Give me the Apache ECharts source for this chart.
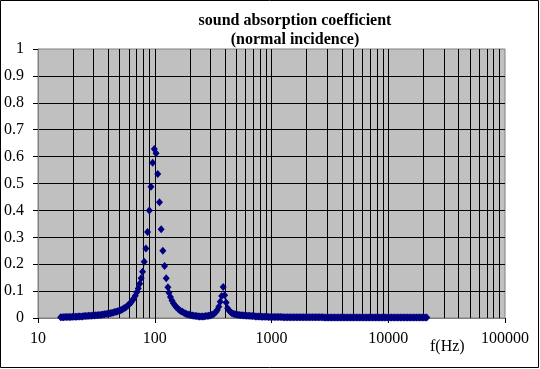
<!DOCTYPE html>
<html lang="en">
  <head>
    <meta charset="UTF-8" />
    <title>sound absorption coefficient</title>
    <script src="https://cdn.jsdelivr.net/npm/echarts@6/dist/echarts.min.js"></script>
    <style>
      html,
      body {
        margin: 0;
        padding: 0;
        background: #fff;
      }
      #chart {
        width: 540px;
        height: 369px;
      }
    </style>
  </head>
  <body>
    <div id="chart"></div>
    <script>
      const freqHz = [
        15.63, 16.08, 16.55, 17.04, 17.54, 18.05, 18.58, 19.13, 19.69, 20.26, 20.86, 21.47,
        22.10, 22.74, 23.41, 24.10, 24.80, 25.53, 26.28, 27.05, 27.84, 28.66, 29.50, 30.36,
        31.25, 32.17, 33.11, 34.08, 35.08, 36.10, 37.16, 38.25, 39.37, 40.53, 41.71, 42.94,
        44.19, 45.49, 46.82, 48.19, 49.61, 51.06, 52.56, 54.10, 55.68, 57.31, 58.99, 60.72,
        62.50, 64.33, 66.22, 68.16, 70.15, 72.21, 74.33, 76.50,
        78.6, 81.2, 84.0, 86.8, 89.8, 92.8, 95.9, 99.2,
        102.6, 106.1, 109.7, 113.4, 117.3, 121.3, 125.4, 129.7,
        132.4, 136.3, 140.3, 144.4, 148.7, 153.0, 157.5, 162.1, 166.9, 171.8, 176.8,
        182.0, 187.3, 192.8, 198.4, 204.2, 210.2, 216.4, 222.7, 229.3, 236.0, 242.9,
        250.0, 257.3, 264.9, 272.6, 280.6, 288.8, 297.3, 306.0, 315.0, 324.2, 333.7, 343.5,
        353.6, 363.9, 374.6, 385.6, 396.9, 408.5, 420.5, 432.8, 445.5, 458.5, 471.9, 485.8,
        500, 514.7, 529.7, 545.3, 561.2, 577.7, 594.6, 612.0, 630.0, 648.4, 667.4, 687.0,
        707.1, 727.8, 749.2, 771.1, 793.7, 817.0, 840.9, 865.5, 890.9, 917.0, 943.9, 971.5,
        1000, 1029, 1059, 1090, 1122, 1155, 1189, 1224, 1260, 1297, 1335, 1374,
        1414, 1456, 1498, 1542, 1587, 1634, 1682, 1731, 1782, 1834, 1888, 1943,
        2000, 2059, 2119, 2181, 2245, 2311, 2378, 2448, 2520, 2594, 2670, 2748,
        2828, 2911, 2997, 3084, 3175, 3268, 3364, 3462, 3564, 3668, 3776, 3886,
        4000, 4117, 4238, 4362, 4490, 4621, 4757, 4896, 5040, 5187, 5339, 5496,
        5657, 5823, 5993, 6169, 6350, 6536, 6727, 6924, 7127, 7336, 7551, 7772,
        8000, 8234, 8476, 8724, 8980, 9243, 9514, 9792, 10079, 10375, 10679, 10992,
        11314, 11645, 11986, 12338, 12699, 13071, 13454, 13849, 14254, 14672, 15102, 15544,
        16000, 16469, 16951, 17448, 17959, 18486, 19027, 19585, 20159, 20749, 21357
      ];
      const absorption = [
        0.003, 0.003, 0.003, 0.004, 0.004, 0.004, 0.004, 0.004, 0.005, 0.005, 0.005, 0.005,
        0.006, 0.006, 0.006, 0.006, 0.007, 0.007, 0.007, 0.008, 0.008, 0.008, 0.009, 0.009,
        0.010, 0.010, 0.011, 0.011, 0.012, 0.013, 0.014, 0.015, 0.016, 0.017, 0.018, 0.019,
        0.020, 0.022, 0.023, 0.025, 0.027, 0.029, 0.032, 0.035, 0.038, 0.042, 0.047, 0.052,
        0.058, 0.065, 0.073, 0.083, 0.096, 0.110, 0.127, 0.148,
        0.172, 0.209, 0.258, 0.320, 0.400, 0.488, 0.577, 0.628,
        0.612, 0.535, 0.430, 0.330, 0.250, 0.193, 0.148, 0.114,
        0.094, 0.078, 0.065, 0.055, 0.047, 0.040, 0.035, 0.030, 0.026, 0.023, 0.020,
        0.017, 0.015, 0.013, 0.012, 0.010, 0.009, 0.008, 0.007, 0.007, 0.006, 0.006,
        0.006, 0.006, 0.006, 0.007, 0.007, 0.008, 0.009, 0.011, 0.013, 0.017, 0.022, 0.030,
        0.042, 0.060, 0.082, 0.115, 0.085, 0.058, 0.036, 0.028, 0.022, 0.018, 0.016, 0.014,
        0.013, 0.012, 0.011, 0.010, 0.010, 0.009, 0.009, 0.008, 0.008, 0.008, 0.007, 0.007,
        0.007, 0.006, 0.006, 0.006, 0.006, 0.005, 0.005, 0.005, 0.005, 0.005, 0.004, 0.004,
        0.004, 0.004, 0.004, 0.004, 0.004, 0.004, 0.004, 0.004, 0.003, 0.003, 0.003, 0.003,
        0.003, 0.003, 0.003, 0.003, 0.003, 0.003, 0.003, 0.003, 0.003, 0.003, 0.003, 0.003,
        0.003, 0.003, 0.003, 0.003, 0.003, 0.003, 0.003, 0.003, 0.003, 0.003, 0.003, 0.003,
        0.002, 0.002, 0.002, 0.002, 0.002, 0.002, 0.002, 0.002, 0.002, 0.002, 0.002, 0.002,
        0.002, 0.002, 0.002, 0.002, 0.002, 0.002, 0.002, 0.002, 0.002, 0.002, 0.002, 0.002,
        0.002, 0.002, 0.002, 0.002, 0.002, 0.002, 0.002, 0.002, 0.002, 0.002, 0.002, 0.002,
        0.002, 0.002, 0.002, 0.002, 0.002, 0.002, 0.002, 0.002, 0.002, 0.002, 0.002, 0.002,
        0.002, 0.002, 0.002, 0.002, 0.002, 0.002, 0.002, 0.002, 0.002, 0.002, 0.002, 0.002,
        0.002, 0.002, 0.002, 0.002, 0.002, 0.002, 0.002, 0.002, 0.002, 0.002, 0.002
      ];
      const decades = [10, 100, 1000, 10000, 100000];
      const chartTitle = "sound absorption coefficient\n(normal incidence)";
      const xName = "f(Hz)";

      // excel-style minor gridlines at 2..9 x each decade
      const minorLines = [];
      decades.slice(0, -1).forEach(d => {
        for (let m = 2; m < 10; m++) minorLines.push(d * m);
      });

      const serif = "Liberation Serif";
      const chart = echarts.init(document.getElementById("chart"));
      chart.setOption({
        animation: false,
        backgroundColor: "#fff",
        title: {
          text: chartTitle,
          left: 290,
          top: 6,
          textAlign: "center",
          textStyle: {
            fontFamily: serif,
            fontSize: 16,
            fontWeight: "bold",
            color: "#000",
            lineHeight: 19
          }
        },
        grid: {
          left: 38,
          top: 49,
          width: 467,
          height: 269,
          show: true,
          backgroundColor: "#c0c0c0",
          borderColor: "#808080",
          borderWidth: 1
        },
        xAxis: {
          type: "log",
          logBase: 10,
          min: decades[0],
          max: decades[decades.length - 1],
          axisLine: { lineStyle: { color: "#808080" } },
          axisTick: { show: true, length: 5, lineStyle: { color: "#000" } },
          axisLabel: {
            margin: 13,
            fontFamily: serif,
            fontSize: 16,
            color: "#000",
            formatter: v => String(Math.round(v))
          },
          splitLine: {
            show: true,
            showMinLine: false,
            showMaxLine: false,
            lineStyle: { color: "#000", width: 1 }
          }
        },
        yAxis: {
          type: "value",
          min: 0,
          max: 1,
          interval: 0.1,
          axisLine: { show: true, lineStyle: { color: "#808080" } },
          axisTick: { show: true, length: 5, lineStyle: { color: "#000" } },
          axisLabel: {
            margin: 14,
            fontFamily: serif,
            fontSize: 16,
            color: "#000"
          },
          splitLine: {
            show: true,
            showMinLine: false,
            showMaxLine: false,
            lineStyle: { color: "#000", width: 1 }
          }
        },
        graphic: [
          {
            type: "rect",
            shape: { x: 0.5, y: 0.5, width: 538, height: 367 },
            style: { fill: "none", stroke: "#000", lineWidth: 1 },
            silent: true,
            z: 100
          },
          {
            type: "text",
            left: 430,
            top: 339,
            style: { text: xName, font: '16px "Liberation Serif"', fill: "#000" }
          }
        ],
        series: [
          {
            type: "scatter",
            data: freqHz.map((f, i) => [f, absorption[i]]),
            symbol: "diamond",
            symbolSize: [7, 8],
            itemStyle: { color: "#000080", opacity: 1 },
            clip: false,
            z: 3,
            markLine: {
              silent: true,
              z: 1,
              symbol: ["none", "none"],
              label: { show: false },
              lineStyle: { color: "#000", width: 1, type: "solid" },
              emphasis: { disabled: true },
              data: minorLines.map(v => ({ xAxis: v }))
            }
          }
        ]
      });
    </script>
  </body>
</html>
